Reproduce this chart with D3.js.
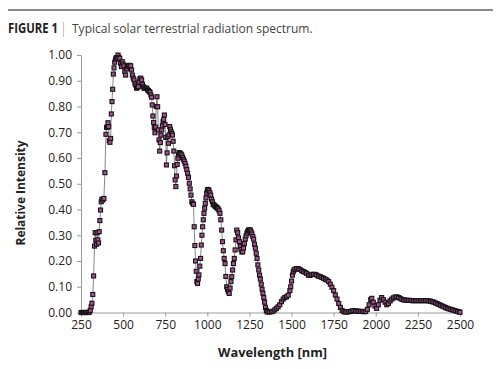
<!DOCTYPE html>
<html>
<head>
<meta charset="utf-8">
<script src="https://cdn.jsdelivr.net/npm/d3@7/dist/d3.min.js"></script>
<style>
  body { margin: 0; background: #fff; }
  svg { display: block; }
  .axis text { font-family: "Open Sans", sans-serif; font-size: 12px; fill: #222; }
  .axis path, .axis line { stroke: #9a9a9a; }
</style>
</head>
<body>
<script>
// wavelength in nm
var wavelength = [
  250,255,260,265,270,275,280,285,290,295,300,305,310,315,320,325,330,334,338,342,
  346,350,354,358,362,366,370,374,380,386,392,398,402,406,410,414,418,422,426,430,
  434,438,442,446,450,455,460,465,470,475,480,485,490,495,500,505,510,515,520,525,
  530,535,540,545,550,555,560,565,570,575,580,585,590,595,600,605,610,615,620,625,
  630,635,640,645,650,655,660,665,669,673,677,681,685,689,693,697,701,705,709,713,
  717,721,725,729,733,737,741,745,749,753,757,761,765,769,773,777,781,785,789,793,
  797,801,805,809,813,817,821,825,829,833,838,843,848,853,858,863,868,873,878,883,
  888,893,898,903,908,913,918,922,926,930,934,938,942,946,950,955,960,964,968,972,
  976,980,984,988,992,996,1000,1005,1010,1015,1020,1025,1030,1035,1040,1045,1050,1055,1060,1065,
  1070,1075,1080,1085,1090,1095,1100,1105,1110,1115,1120,1125,1130,1135,1140,1145,1150,1155,1160,1165,
  1170,1175,1180,1185,1190,1195,1200,1205,1210,1215,1220,1225,1230,1235,1240,1245,1250,1255,1260,1265,
  1270,1275,1280,1285,1290,1295,1300,1305,1310,1315,1320,1325,1330,1335,1340,1345,1350,1355,1360,1370,
  1380,1390,1400,1410,1420,1430,1440,1450,1460,1470,1480,1490,1495,1500,1505,1510,1515,1520,1530,1540,
  1550,1560,1570,1580,1590,1600,1610,1620,1630,1640,1650,1660,1670,1680,1690,1700,1710,1720,1730,1740,
  1750,1760,1770,1780,1790,1800,1810,1820,1830,1840,1850,1860,1870,1880,1890,1900,1910,1920,1930,1940,
  1950,1960,1970,1976,1985,1995,2005,2015,2025,2035,2045,2055,2065,2075,2085,2095,2105,2115,2125,2135,
  2145,2155,2165,2175,2185,2195,2205,2215,2225,2235,2245,2255,2265,2275,2285,2295,2305,2315,2325,2335,
  2345,2355,2365,2375,2385,2395,2405,2415,2425,2435,2445,2455,2465,2475,2485,2495,2500
];
// relative intensity, same order
var intensity = [
  0,0,0,0,0,0,0,0,0,0,0.002,0.008,0.022,0.036,0.07,0.142,0.258,0.31,0.28,0.265,
  0.31,0.282,0.27,0.314,0.357,0.398,0.43,0.44,0.437,0.443,0.543,0.692,0.719,0.72,0.737,0.722,0.667,0.661,0.676,0.771,
  0.819,0.867,0.926,0.95,0.972,0.984,0.99,0.987,1.0,0.99,0.987,0.968,0.955,0.974,0.965,0.958,0.935,0.922,0.946,0.955,
  0.958,0.96,0.958,0.958,0.942,0.922,0.91,0.903,0.89,0.883,0.871,0.875,0.877,0.895,0.909,0.91,0.903,0.886,0.877,0.871,
  0.871,0.871,0.871,0.865,0.862,0.858,0.855,0.845,0.836,0.806,0.763,0.738,0.718,0.698,0.72,0.8,0.838,0.799,0.709,0.67,
  0.627,0.66,0.689,0.709,0.725,0.741,0.75,0.767,0.73,0.68,0.573,0.62,0.683,0.657,0.69,0.722,0.71,0.702,0.695,0.689,
  0.665,0.627,0.57,0.515,0.489,0.53,0.575,0.599,0.612,0.621,0.618,0.616,0.612,0.603,0.595,0.588,0.579,0.568,0.555,0.541,
  0.525,0.502,0.48,0.456,0.43,0.424,0.42,0.333,0.26,0.2,0.16,0.12,0.113,0.13,0.146,0.18,0.21,0.262,0.3,0.333,
  0.36,0.385,0.405,0.424,0.445,0.463,0.476,0.478,0.473,0.465,0.456,0.44,0.43,0.42,0.417,0.414,0.411,0.408,0.405,0.402,
  0.395,0.385,0.36,0.32,0.275,0.24,0.21,0.19,0.14,0.1,0.09,0.081,0.074,0.095,0.12,0.139,0.165,0.19,0.21,0.243,
  0.282,0.32,0.31,0.29,0.275,0.256,0.245,0.235,0.236,0.25,0.268,0.285,0.298,0.308,0.316,0.32,0.321,0.32,0.313,0.305,
  0.295,0.285,0.265,0.25,0.23,0.21,0.185,0.165,0.145,0.13,0.11,0.09,0.075,0.058,0.04,0.02,0.008,0.003,0.002,0.002,
  0.003,0.005,0.01,0.016,0.022,0.03,0.042,0.052,0.058,0.061,0.067,0.085,0.1,0.122,0.145,0.158,0.165,0.168,0.171,0.17,
  0.167,0.162,0.159,0.156,0.152,0.145,0.144,0.148,0.148,0.148,0.145,0.141,0.139,0.136,0.133,0.129,0.126,0.12,0.11,0.098,
  0.085,0.068,0.052,0.035,0.02,0.008,0.003,0.002,0.002,0.003,0.004,0.006,0.007,0.006,0.005,0.005,0.004,0.004,0.003,0.004,
  0.012,0.03,0.05,0.055,0.04,0.025,0.016,0.03,0.048,0.058,0.05,0.04,0.03,0.035,0.045,0.052,0.057,0.06,0.061,0.058,
  0.055,0.051,0.049,0.048,0.047,0.047,0.047,0.046,0.046,0.046,0.046,0.046,0.046,0.046,0.046,0.046,0.046,0.045,0.044,0.042,
  0.04,0.037,0.034,0.031,0.028,0.025,0.022,0.019,0.016,0.014,0.012,0.01,0.008,0.006,0.004,0.002,0.001
];
var xTicks = [250,500,750,1000,1250,1500,1750,2000,2250,2500];
var yTicks = [0,0.1,0.2,0.3,0.4,0.5,0.6,0.7,0.8,0.9,1.0];

var width = 500, height = 369;
var points = wavelength.map(function(w, i) { return {w: w, v: intensity[i]}; });

var svg = d3.select("body").append("svg").attr("width", width).attr("height", height);

// squeeze a text horizontally so it spans the given width (the original font is narrow)
function fitWidth(sel, px, py, target) {
  var w = sel.node().getComputedTextLength();
  sel.attr("transform", "translate(" + px + "," + py + ") scale(" + (target / w) + ",1)");
}

// header
svg.append("line").attr("x1", 8).attr("x2", 493).attr("y1", 10).attr("y2", 10)
  .attr("stroke", "#8c8c8c").attr("stroke-width", 2);
var fig = svg.append("text")
  .attr("font-family", "Open Sans, sans-serif").attr("font-weight", "bold").attr("font-size", 14.5)
  .attr("fill", "#222").text("FIGURE 1");
fitWidth(fig, 8, 33, 50);
var bar = svg.append("text")
  .attr("font-family", "Open Sans, sans-serif").attr("font-size", 14).attr("fill", "#555").text("|");
fitWidth(bar, 62, 33, 3);
var sub = svg.append("text")
  .attr("font-family", "Open Sans, sans-serif").attr("font-size", 13.5).attr("fill", "#444")
  .text("Typical solar terrestrial radiation spectrum.");
fitWidth(sub, 72, 33, 241);

var x = d3.scaleLinear().domain([250, 2500]).range([81, 460]);
var y = d3.scaleLinear().domain([0, 1]).range([312.5, 55]);

svg.append("g").attr("class", "axis").attr("transform", "translate(0," + y(0) + ")")
  .call(d3.axisBottom(x).tickValues(xTicks).tickSize(4).tickSizeOuter(0).tickPadding(4).tickFormat(d3.format("d")));
svg.append("g").attr("class", "axis").attr("transform", "translate(" + x(250) + ",0)")
  .call(d3.axisLeft(y).tickValues(yTicks).tickSize(4).tickSizeOuter(0).tickPadding(5).tickFormat(d3.format(".2f")));

var line = d3.line().x(function(d) { return x(d.w); }).y(function(d) { return y(d.v); });
svg.append("path").datum(points).attr("d", line)
  .attr("fill", "none").attr("stroke", "#6a6a6a").attr("stroke-width", 0.8);

svg.append("g").selectAll("rect").data(points).enter().append("rect")
  .attr("x", function(d) { return x(d.w) - 2; })
  .attr("y", function(d) { return y(d.v) - 2; })
  .attr("width", 4).attr("height", 4)
  .attr("fill", "#a84f92").attr("stroke", "#141414").attr("stroke-width", 1.1);

// axis titles
svg.append("text").attr("transform", "translate(25,193) rotate(-90)").attr("text-anchor", "middle")
  .attr("font-family", "Open Sans, sans-serif").attr("font-weight", "bold").attr("font-size", 12.5)
  .attr("fill", "#222").attr("textLength", 105).attr("lengthAdjust", "spacingAndGlyphs").text("Relative Intensity");
svg.append("text").attr("x", 272.5).attr("y", 357).attr("text-anchor", "middle")
  .attr("font-family", "Open Sans, sans-serif").attr("font-weight", "bold").attr("font-size", 12.5)
  .attr("fill", "#222").attr("textLength", 109).attr("lengthAdjust", "spacingAndGlyphs").text("Wavelength [nm]");
</script>
</body>
</html>
